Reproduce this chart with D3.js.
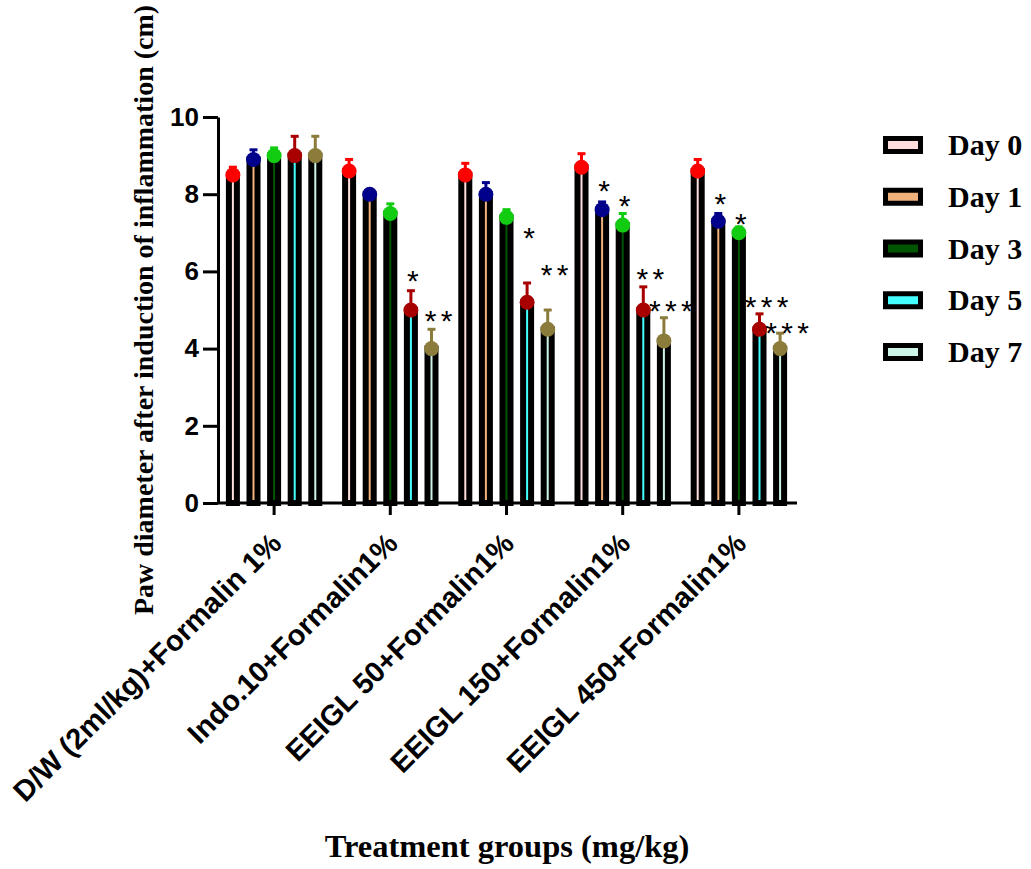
<!DOCTYPE html>
<html lang="en">
  <head>
    <meta charset="UTF-8" />
    <title>paw diameter</title>
    <script src="https://cdn.jsdelivr.net/npm/d3@7"></script>
    <style>
      body { margin: 0; background: #fff; }
      .tick text { font-family: "Liberation Sans", Arial, sans-serif; font-weight: bold; }
      .serif { font-family: "Liberation Serif", "Times New Roman", serif; font-weight: bold; }
    </style>
  </head>
  <body>
    <svg id="chart" width="1031" height="869"></svg>
    <script>
      // data
      let groups = [
        "D/W (2ml/kg)+Formalin 1%",
        "Indo.10+Formalin1%",
        "EEIGL 50+Formalin1%",
        "EEIGL 150+Formalin1%",
        "EEIGL 450+Formalin1%"
      ];
      let days = ["Day 0", "Day 1", "Day 3", "Day 5", "Day 7"];
      // mean per group, one value per day
      let means = [
        [8.5, 8.9, 9.0, 9.0, 9.0],
        [8.6, 8.0, 7.5, 5.0, 4.0],
        [8.5, 8.0, 7.4, 5.2, 4.5],
        [8.7, 7.6, 7.2, 5.0, 4.2],
        [8.6, 7.3, 7.0, 4.5, 4.0]
      ];
      let errors = [
        [0.2, 0.25, 0.2, 0.5, 0.5],
        [0.3, 0.1, 0.25, 0.5, 0.5],
        [0.3, 0.3, 0.2, 0.5, 0.5],
        [0.35, 0.2, 0.3, 0.6, 0.6],
        [0.3, 0.2, 0.15, 0.4, 0.4]
      ];
      // significance marks and the height (cm) they are written at
      let stars = [
        ["", "", "", "", ""],
        ["", "", "", "*", "**"],
        ["", "", "", "*", "**"],
        ["", "*", "*", "**", "***"],
        ["", "*", "*", "***", "***"]
      ];
      let starHeight = [
        [0, 0, 0, 0, 0],
        [0, 0, 0, 5.9, 4.87],
        [0, 0, 0, 7.03, 6.06],
        [0, 8.24, 7.85, 5.96, 5.13],
        [0, 7.9, 7.38, 5.24, 4.56]
      ];
      let yTicks = [0, 2, 4, 6, 8, 10];

      let fillColors = ["#ffdede", "#f0b27a", "#005500", "#44ffff", "#cdf5e6"];
      let dotColors = ["#ff0000", "#00008b", "#11cc11", "#a80000", "#8c7c3c"];

      let svg = d3.select("#chart");

      let x = d3.scaleBand().domain(groups).range([216, 797]);
      let xDay = d3.scaleBand().domain(days).range([-51.5, 51.5]);
      let y = d3.scaleLinear().domain([0, 10]).range([503, 117]);

      // axes
      let yAxis = svg.append("g")
        .attr("transform", "translate(218,0)")
        .call(d3.axisLeft(y).tickValues(yTicks).tickSize(15).tickSizeOuter(0).tickPadding(4));
      yAxis.selectAll("text").style("font-size", "26px").attr("fill", "#000");

      let xAxis = svg.append("g")
        .attr("transform", "translate(0,503)")
        .call(d3.axisBottom(x).tickSize(12).tickSizeOuter(0));
      xAxis.select(".domain").attr("d", "M218,0H797");
      xAxis.selectAll("text")
        .style("font-size", "29px")
        .attr("fill", "#000")
        .attr("text-anchor", "end")
        .attr("transform", "translate(2,35) rotate(-45)")
        .attr("x", 0)
        .attr("y", 0)
        .attr("dy", "0.35em");

      svg.selectAll(".domain, .tick line")
        .attr("stroke", "#000")
        .attr("stroke-width", 3);

      // bars
      let rows = [];
      groups.forEach((g, gi) => {
        days.forEach((d, di) => {
          rows.push({ g: g, d: d, di: di, v: means[gi][di], e: errors[gi][di],
                      s: stars[gi][di], sh: starHeight[gi][di] });
        });
      });

      let cx = (r) => x(r.g) + x.bandwidth() / 2 + xDay(r.d) + xDay.bandwidth() / 2;

      svg.append("g").selectAll("rect")
        .data(rows)
        .join("rect")
        .attr("x", (r) => cx(r) - 4)
        .attr("y", (r) => y(r.v))
        .attr("width", 8)
        .attr("height", (r) => y(0) - y(r.v))
        .attr("fill", (r) => fillColors[r.di])
        .attr("stroke", "#000")
        .attr("stroke-width", 6);

      // error bars (upper only)
      let err = svg.append("g").selectAll("g").data(rows).join("g")
        .attr("stroke", (r) => dotColors[r.di])
        .attr("stroke-width", 3);
      err.append("line")
        .attr("x1", cx).attr("x2", cx)
        .attr("y1", (r) => y(r.v)).attr("y2", (r) => y(r.v + r.e));
      err.append("line")
        .attr("x1", (r) => cx(r) - 4).attr("x2", (r) => cx(r) + 4)
        .attr("y1", (r) => y(r.v + r.e)).attr("y2", (r) => y(r.v + r.e));

      svg.append("g").selectAll("circle")
        .data(rows)
        .join("circle")
        .attr("cx", cx)
        .attr("cy", (r) => y(r.v))
        .attr("r", 7.5)
        .attr("fill", (r) => dotColors[r.di]);

      // asterisks
      let starRows = [];
      rows.filter((r) => r.s).forEach((r) => {
        let n = r.s.length;
        for (let i = 0; i < n; i++) {
          starRows.push({ x: cx(r) + (i - (n - 1) / 2) * 16 + (n > 1 ? 7 : 2), v: r.sh });
        }
      });
      svg.append("g").selectAll("text")
        .data(starRows)
        .join("text")
        .attr("x", (s) => s.x)
        .attr("y", (s) => y(s.v) + 16)
        .attr("text-anchor", "middle")
        .style("font-family", '"Liberation Sans", Arial, sans-serif')
        .style("font-size", "30px")
        .text("*");

      // axis titles
      svg.append("text")
        .attr("class", "serif")
        .attr("transform", "translate(153,310) rotate(-90)")
        .attr("text-anchor", "middle")
        .style("font-size", "28px")
        .text("Paw diameter after induction of inflammation (cm)");

      svg.append("text")
        .attr("class", "serif")
        .attr("x", 507)
        .attr("y", 857)
        .attr("text-anchor", "middle")
        .style("font-size", "32.5px")
        .text("Treatment groups (mg/kg)");

      // legend
      let ly = d3.scalePoint().domain(days).range([145, 352]);
      let legend = svg.append("g").selectAll("g").data(days).join("g")
        .attr("transform", (d) => `translate(0,${ly(d)})`);
      legend.append("rect")
        .attr("x", 885.5).attr("y", -6.5)
        .attr("width", 35).attr("height", 13)
        .attr("fill", (d, i) => fillColors[i])
        .attr("stroke", "#000")
        .attr("stroke-width", 5);
      legend.append("text")
        .attr("class", "serif")
        .attr("x", 948)
        .attr("y", 10)
        .style("font-size", "30px")
        .text((d) => d);
    </script>
  </body>
</html>
